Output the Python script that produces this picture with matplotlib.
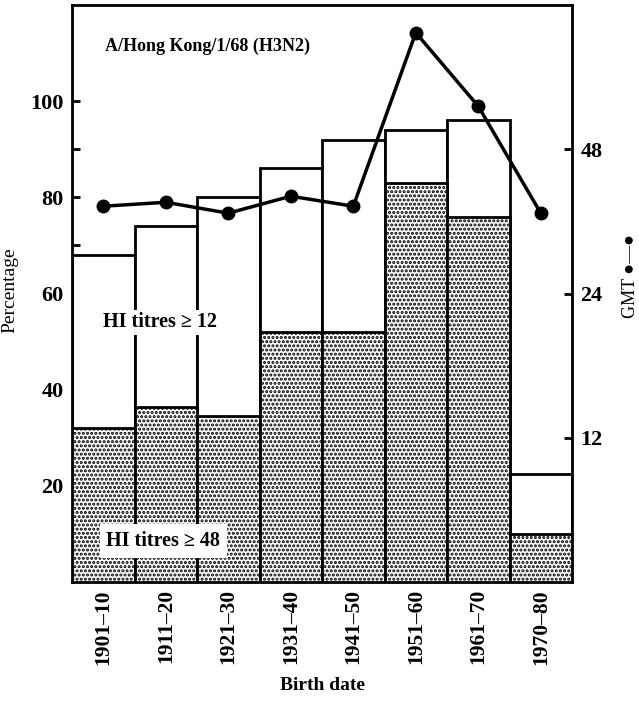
import matplotlib.pyplot as plt
import numpy as np

plt.rcParams['font.family'] = ['Liberation Serif', 'DejaVu Serif']
plt.rcParams['hatch.linewidth'] = 1.5

# data
birth = ['1901\u201310', '1911\u201320', '1921\u201330', '1931\u201340',
         '1941\u201350', '1951\u201360', '1961\u201370', '1970\u201380']
pct_12 = [68, 74, 80, 86, 92, 94, 96, 22.5]
pct_48 = [32, 36.5, 34.5, 52, 52, 83, 76, 10]
gmt = [36.5, 37.2, 35.3, 38.3, 36.5, 84, 59, 35.3]

fig = plt.figure(figsize=(6.39, 7.03), dpi=100)
ax = fig.add_axes([0.1127, 0.172, 0.7825, 0.821])

x = np.arange(len(birth)) + 0.5
ax.bar(x, pct_12, width=1.0, color='white', edgecolor='black', linewidth=2, zorder=2)
ax.bar(x, pct_48, width=1.0, color='white', edgecolor='black', linewidth=2,
       hatch='....', zorder=3)
ax.set_xlim(0, 8)
ax.set_ylim(0, 120)
ax.set_yticks([20, 40, 60, 80, 100])
ax.set_yticks([70, 90], minor=True)
ax.tick_params(axis='y', direction='in', length=6, width=2, labelsize=16, pad=6)
ax.tick_params(axis='y', which='minor', direction='in', length=6, width=2)
for t in ax.get_yticklabels():
    t.set_fontweight('bold')
ax.set_xticks(x)
ax.set_xticklabels(birth, rotation=90, fontsize=15.5, fontweight='bold')
ax.tick_params(axis='x', length=0, pad=5)
for s in ax.spines.values():
    s.set_linewidth(2)
ax.set_ylabel('Percentage', fontsize=14)
ax.yaxis.set_label_coords(-0.108, 0.505)
ax.set_xlabel('Birth date', fontsize=14, fontweight='bold')
ax.xaxis.set_label_coords(0.5, -0.165)

ax.text(0.53, 111.3, 'A/Hong Kong/1/68 (H3N2)', fontsize=13, fontweight='bold',
        va='center', zorder=6)
ax.text(0.5, 54, 'HI titres \u2265 12', fontsize=14.5, fontweight='bold', va='center',
        zorder=6, bbox=dict(facecolor='white', edgecolor='none', pad=2))
ax.text(0.55, 8.5, 'HI titres \u2265 48', fontsize=14.5, fontweight='bold', va='center',
        zorder=6, bbox=dict(facecolor='white', edgecolor='none', pad=5))

ax2 = ax.twinx()
ax2.set_yscale('log')
ax2.set_ylim(6, 96)
ax2.plot(x, gmt, color='black', lw=2.5, marker='o', ms=9, zorder=5)
ax2.set_yticks([12, 24, 48])
ax2.set_yticklabels(['12', '24', '48'])
ax2.minorticks_off()
ax2.tick_params(axis='y', direction='in', length=6, width=2, labelsize=16, pad=6)
for t in ax2.get_yticklabels():
    t.set_fontweight('bold')
ax2.set_ylabel('GMT \u25cf\u2014\u25cf', fontsize=13)
ax2.yaxis.set_label_coords(1.1, 0.53)
ax.set_zorder(1)
ax2.set_zorder(2)
ax2.patch.set_visible(False)

fig.savefig('out.png', dpi=100)
